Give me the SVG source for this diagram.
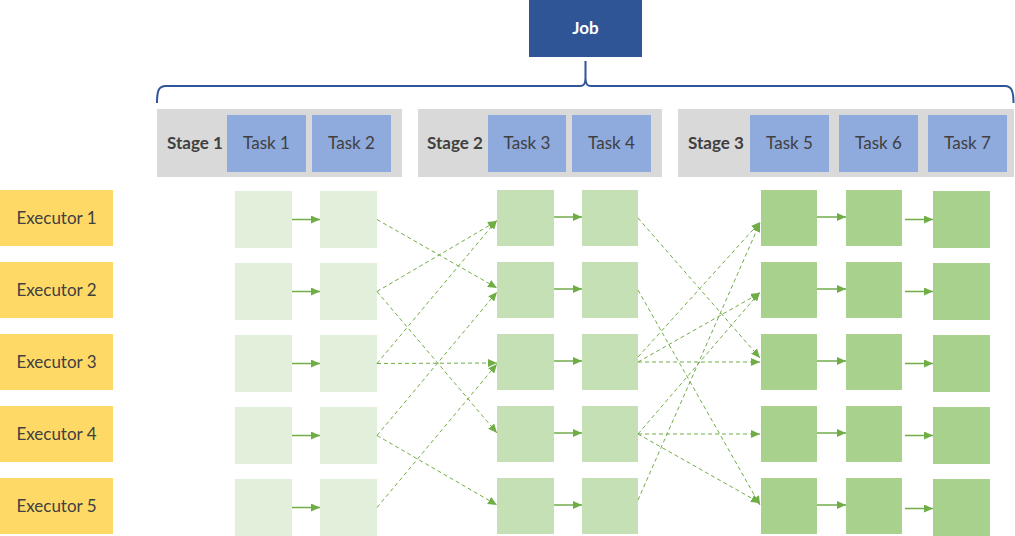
<svg xmlns="http://www.w3.org/2000/svg" width="1015" height="536" viewBox="0 0 1015 536">
<style>
  text { font-family: "Lato", "Liberation Sans", sans-serif; font-size: 17px; fill: #404040; text-anchor: middle; }
  .b { font-weight: bold; }
  .job { fill: #2F5597; }
  .jobt { fill: #FFFFFF; font-weight: bold; }
  .stage { fill: #D9D9D9; }
  .task { fill: #8FAADC; }
  .exec { fill: #FFD966; }
  .c1 { fill: #E2EFDA; }
  .c2 { fill: #C5E0B4; }
  .c3 { fill: #A9D18E; }
  .solid { stroke: #70AD47; stroke-width: 1.5; fill: none; marker-end: url(#ah); }
  .dash { stroke: #70AD47; stroke-width: 1; stroke-dasharray: 4 3; fill: none; marker-end: url(#ah); }
  .brace { stroke: #2F5597; stroke-width: 2; fill: none; }
</style>
<defs>
  <marker id="ah" markerUnits="userSpaceOnUse" markerWidth="10" markerHeight="8" refX="9" refY="4" orient="auto">
    <path d="M0,0 L9,4 L0,8 z" fill="#70AD47"/>
  </marker>
</defs>

<g id="job">
  <rect class="job" x="529" y="0" width="113" height="57"/>
  <text class="jobt" x="585.5" y="34">Job</text>
</g>
<g id="brace">
  <path class="brace" d="M157,103 C157,92 158,86 166,86 L580,86 C584,86 585.5,84 585.5,78 L585.5,61 M585.5,78 C585.5,84 587,86 591,86 L1005,86 C1012,86 1013.5,92 1013.5,103"/>
</g>

<g id="stage1">
  <rect class="stage" x="157" y="109" width="245" height="68"/>
  <text class="b" x="195" y="149">Stage 1</text>
</g>
<g id="task1"><rect class="task" x="227" y="115" width="79" height="57"/><text x="266.5" y="149">Task 1</text></g>
<g id="task2"><rect class="task" x="312" y="115" width="79" height="57"/><text x="351.5" y="149">Task 2</text></g>

<g id="stage2">
  <rect class="stage" x="418" y="109" width="244" height="68"/>
  <text class="b" x="455" y="149">Stage 2</text>
</g>
<g id="task3"><rect class="task" x="488" y="115" width="78" height="57"/><text x="527" y="149">Task 3</text></g>
<g id="task4"><rect class="task" x="572" y="115" width="79" height="57"/><text x="611.5" y="149">Task 4</text></g>

<g id="stage3">
  <rect class="stage" x="678" y="109" width="336" height="68"/>
  <text class="b" x="716" y="149">Stage 3</text>
</g>
<g id="task5"><rect class="task" x="750" y="115" width="79" height="57"/><text x="789.5" y="149">Task 5</text></g>
<g id="task6"><rect class="task" x="839" y="115" width="79" height="57"/><text x="878.5" y="149">Task 6</text></g>
<g id="task7"><rect class="task" x="928" y="115" width="79" height="57"/><text x="967.5" y="149">Task 7</text></g>

<g id="executor1"><rect class="exec" x="0" y="190" width="113" height="56"/><text x="56.5" y="224">Executor 1</text></g>
<g id="executor2"><rect class="exec" x="0" y="262" width="113" height="56"/><text x="56.5" y="296">Executor 2</text></g>
<g id="executor3"><rect class="exec" x="0" y="334" width="113" height="56"/><text x="56.5" y="368">Executor 3</text></g>
<g id="executor4"><rect class="exec" x="0" y="406" width="113" height="56"/><text x="56.5" y="440">Executor 4</text></g>
<g id="executor5"><rect class="exec" x="0" y="478" width="113" height="56"/><text x="56.5" y="512">Executor 5</text></g>

<g id="col1">
  <rect id="t1r1" class="c1" x="235" y="191" width="57" height="57"/>
  <rect id="t1r2" class="c1" x="235" y="263" width="57" height="57"/>
  <rect id="t1r3" class="c1" x="235" y="335" width="57" height="57"/>
  <rect id="t1r4" class="c1" x="235" y="407" width="57" height="57"/>
  <rect id="t1r5" class="c1" x="235" y="479" width="57" height="57"/>
</g>
<g id="col2">
  <rect id="t2r1" class="c1" x="320" y="191" width="57" height="57"/>
  <rect id="t2r2" class="c1" x="320" y="263" width="57" height="57"/>
  <rect id="t2r3" class="c1" x="320" y="335" width="57" height="57"/>
  <rect id="t2r4" class="c1" x="320" y="407" width="57" height="57"/>
  <rect id="t2r5" class="c1" x="320" y="479" width="57" height="57"/>
</g>
<g id="col3">
  <rect id="t3r1" class="c2" x="497" y="190" width="57" height="56"/>
  <rect id="t3r2" class="c2" x="497" y="262" width="57" height="56"/>
  <rect id="t3r3" class="c2" x="497" y="334" width="57" height="56"/>
  <rect id="t3r4" class="c2" x="497" y="406" width="57" height="56"/>
  <rect id="t3r5" class="c2" x="497" y="478" width="57" height="56"/>
</g>
<g id="col4">
  <rect id="t4r1" class="c2" x="582" y="190" width="56" height="56"/>
  <rect id="t4r2" class="c2" x="582" y="262" width="56" height="56"/>
  <rect id="t4r3" class="c2" x="582" y="334" width="56" height="56"/>
  <rect id="t4r4" class="c2" x="582" y="406" width="56" height="56"/>
  <rect id="t4r5" class="c2" x="582" y="478" width="56" height="56"/>
</g>
<g id="col5">
  <rect id="t5r1" class="c3" x="761" y="190" width="56" height="56"/>
  <rect id="t5r2" class="c3" x="761" y="262" width="56" height="56"/>
  <rect id="t5r3" class="c3" x="761" y="334" width="56" height="56"/>
  <rect id="t5r4" class="c3" x="761" y="406" width="56" height="56"/>
  <rect id="t5r5" class="c3" x="761" y="478" width="56" height="56"/>
</g>
<g id="col6">
  <rect id="t6r1" class="c3" x="846" y="190" width="56" height="56"/>
  <rect id="t6r2" class="c3" x="846" y="262" width="56" height="56"/>
  <rect id="t6r3" class="c3" x="846" y="334" width="56" height="56"/>
  <rect id="t6r4" class="c3" x="846" y="406" width="56" height="56"/>
  <rect id="t6r5" class="c3" x="846" y="478" width="56" height="56"/>
</g>
<g id="col7">
  <rect id="t7r1" class="c3" x="933" y="191" width="57" height="57"/>
  <rect id="t7r2" class="c3" x="933" y="263" width="57" height="57"/>
  <rect id="t7r3" class="c3" x="933" y="335" width="57" height="57"/>
  <rect id="t7r4" class="c3" x="933" y="407" width="57" height="57"/>
  <rect id="t7r5" class="c3" x="933" y="479" width="57" height="57"/>
</g>

<g id="connectors">
  <line class="solid" x1="292" y1="219.5" x2="320" y2="219.5"/>
  <line class="solid" x1="292" y1="291.5" x2="320" y2="291.5"/>
  <line class="solid" x1="292" y1="363.5" x2="320" y2="363.5"/>
  <line class="solid" x1="292" y1="435.5" x2="320" y2="435.5"/>
  <line class="solid" x1="292" y1="507.5" x2="320" y2="507.5"/>

  <line class="solid" x1="554" y1="217" x2="582" y2="217"/>
  <line class="solid" x1="554" y1="289" x2="582" y2="289"/>
  <line class="solid" x1="554" y1="361" x2="582" y2="361"/>
  <line class="solid" x1="554" y1="433" x2="582" y2="433"/>
  <line class="solid" x1="554" y1="505" x2="582" y2="505"/>

  <line class="solid" x1="817" y1="217" x2="846" y2="217"/>
  <line class="solid" x1="817" y1="289" x2="846" y2="289"/>
  <line class="solid" x1="817" y1="361" x2="846" y2="361"/>
  <line class="solid" x1="817" y1="433" x2="846" y2="433"/>
  <line class="solid" x1="817" y1="505" x2="846" y2="505"/>

  <line class="solid" x1="905" y1="219.5" x2="933" y2="219.5"/>
  <line class="solid" x1="905" y1="291.5" x2="933" y2="291.5"/>
  <line class="solid" x1="905" y1="363.5" x2="933" y2="363.5"/>
  <line class="solid" x1="905" y1="435.5" x2="933" y2="435.5"/>
  <line class="solid" x1="905" y1="508.5" x2="933" y2="508.5"/>

  <line class="dash" x1="377" y1="219.5" x2="497" y2="288"/>
  <line class="dash" x1="377" y1="291.5" x2="497" y2="221"/>
  <line class="dash" x1="377" y1="291.5" x2="497" y2="433"/>
  <line class="dash" x1="377" y1="363.5" x2="497" y2="220"/>
  <line class="dash" x1="377" y1="363.5" x2="497" y2="363"/>
  <line class="dash" x1="377" y1="435.5" x2="497" y2="292"/>
  <line class="dash" x1="377" y1="435.5" x2="497" y2="505"/>
  <line class="dash" x1="377" y1="507.5" x2="497" y2="364"/>

  <line class="dash" x1="638" y1="218" x2="760" y2="358"/>
  <line class="dash" x1="638" y1="290" x2="760" y2="505"/>
  <line class="dash" x1="638" y1="357" x2="760" y2="222"/>
  <line class="dash" x1="638" y1="362" x2="760" y2="293"/>
  <line class="dash" x1="638" y1="362" x2="760" y2="362"/>
  <line class="dash" x1="638" y1="434" x2="760" y2="292"/>
  <line class="dash" x1="638" y1="434" x2="760" y2="434"/>
  <line class="dash" x1="638" y1="434" x2="760" y2="503"/>
  <line class="dash" x1="638" y1="500" x2="760" y2="223"/>
</g>
</svg>
